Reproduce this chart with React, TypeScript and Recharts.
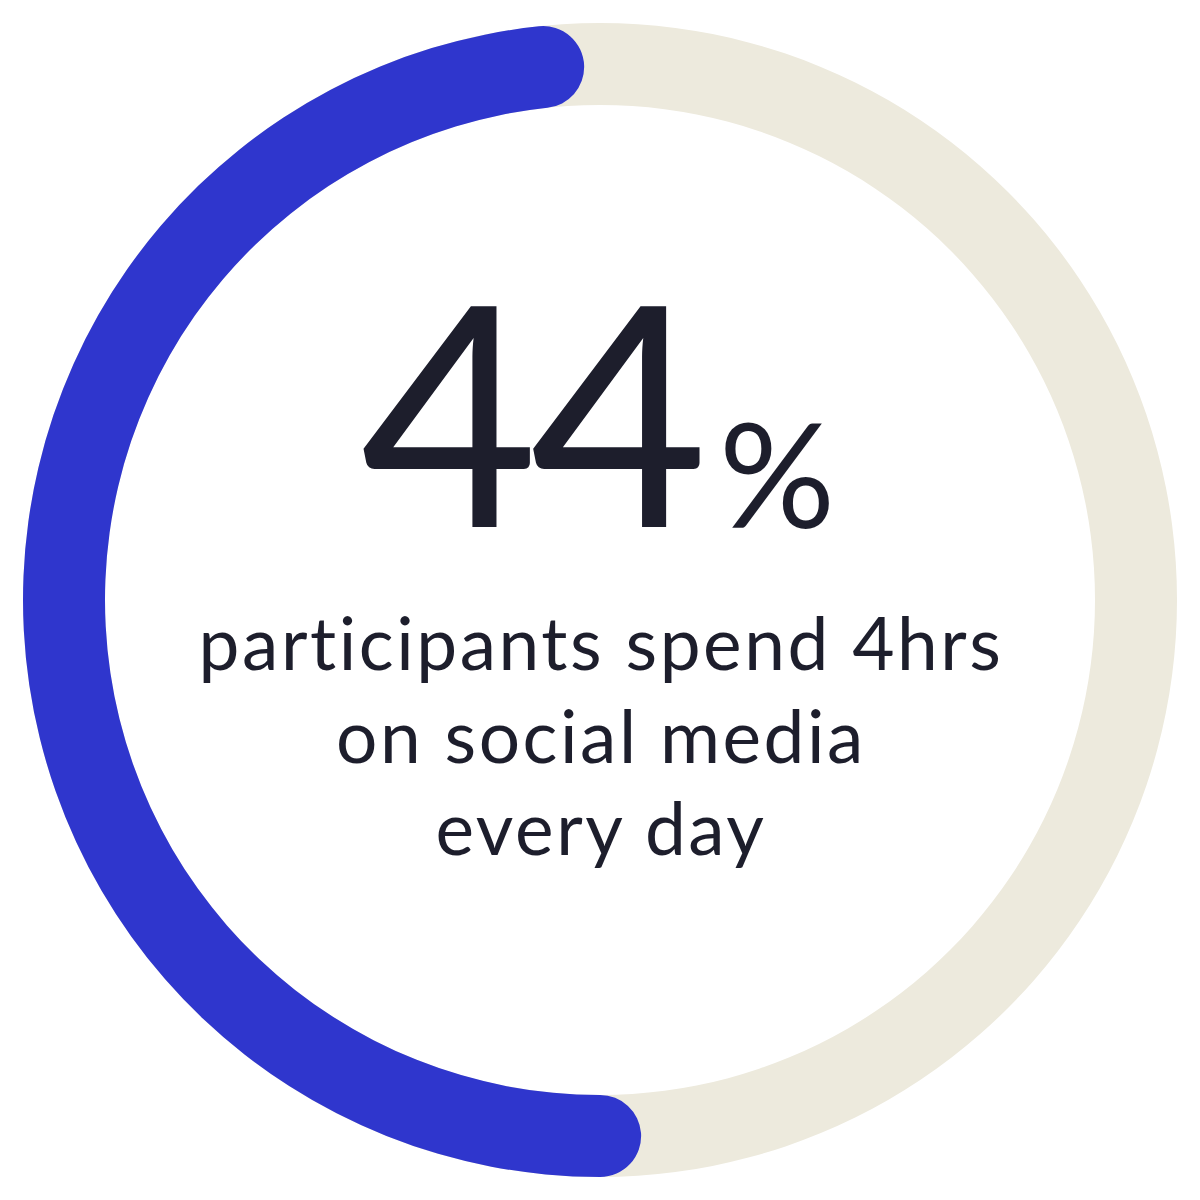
import React from "react";
import { PieChart, Pie, Cell, Label } from "recharts";

// share of the ring that is highlighted, as drawn (blue arc vs the rest)
const arcShares = [
    { name: "Highlighted", value: 50.75 },
    { name: "Rest", value: 49.25 },
];
const track = [{ name: "Track", value: 100 }];
const headline = "44";
const headlineUnit = "%";
const captionLines = ["participants spend 4hrs", "on social media", "every day"];

const CX = 600;
const CY = 600;
const BLUE = "#2F36CD";
const BEIGE = "#EDEADD";
const INK = "#1D1E2C";
const FONT = "Lato, 'Open Sans', sans-serif";

const CenterText = () => {
    return (
        <g fontFamily={FONT} fill={INK}>
            <text x={CX - 240} y={CY - 73} fontSize={308} letterSpacing={-9}>
                {headline}
            </text>
            <text x={CX + 119} y={CY - 72} fontSize={145}>
                {headlineUnit}
            </text>
            {captionLines.map((line, i) => (
                <text
                    key={line}
                    x={CX + 1}
                    y={CY + 70 + i * 92.5}
                    fontSize={73}
                    letterSpacing={2.55}
                    textAnchor="middle"
                >
                    {line}
                </text>
            ))}
        </g>
    );
};

const App = () => {
    return (
        <div style={{ position: "absolute", left: 0, top: 0, background: "#fff" }}>
            <PieChart width={1200} height={1200} margin={{ top: 0, right: 0, bottom: 0, left: 0 }}>
                <Pie
                    data={track}
                    dataKey="value"
                    cx={CX}
                    cy={CY}
                    innerRadius={495}
                    outerRadius={577}
                    startAngle={90}
                    endAngle={450}
                    stroke="none"
                    isAnimationActive={false}
                >
                    <Cell fill={BEIGE} />
                </Pie>
                <Pie
                    data={arcShares}
                    dataKey="value"
                    cx={CX}
                    cy={CY}
                    innerRadius={495}
                    outerRadius={577}
                    startAngle={91.7}
                    endAngle={451.7}
                    cornerRadius={41}
                    stroke="none"
                    isAnimationActive={false}
                >
                    <Cell fill={BLUE} />
                    <Cell fill="transparent" />
                    <Label content={<CenterText />} position="center" />
                </Pie>
            </PieChart>
        </div>
    );
};

export default App;
